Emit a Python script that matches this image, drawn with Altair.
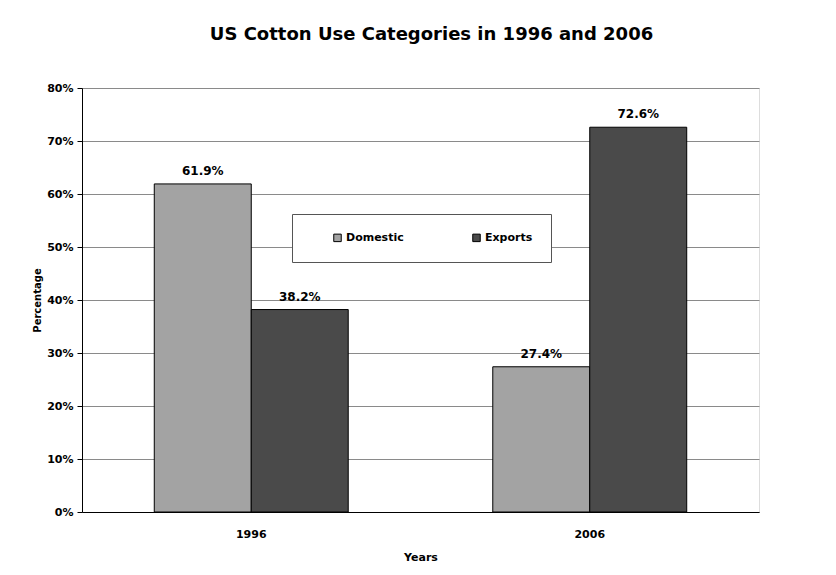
import altair as alt
import pandas as pd

years = ["1996", "2006"]
categories = ["Domestic", "Exports"]
domestic = [61.9, 27.4]
exports = [38.2, 72.6]
y_ticks = [0, 10, 20, 30, 40, 50, 60, 70, 80]

rows = []
for i, yr in enumerate(years):
    rows.append({"year": yr, "category": "Domestic", "value": domestic[i]})
    rows.append({"year": yr, "category": "Exports", "value": exports[i]})
df = pd.DataFrame(rows)

FONT = "DejaVu Sans"

base = alt.Chart(df).transform_calculate(
    label="format(datum.value, '.1f') + '%'"
).encode(
    x=alt.X(
        "year:N",
        title="Years",
        scale=alt.Scale(paddingInner=0.427, paddingOuter=0.2135),
        axis=alt.Axis(
            labelAngle=0, ticks=False, labelPadding=16, titlePadding=12,
            labelFont=FONT, labelFontSize=11, labelFontWeight="bold", labelColor="black",
            titleFont=FONT, titleFontSize=11, titleFontWeight="bold", titleColor="black",
            domainColor="black", domainWidth=1,
        ),
    ),
    xOffset=alt.XOffset("category:N", scale=alt.Scale(domain=categories)),
    y=alt.Y(
        "value:Q",
        title="Percentage",
        scale=alt.Scale(domain=[0, 80], nice=False),
        axis=alt.Axis(
            values=y_ticks, labelExpr="datum.value + '%'",
            tickSize=5, tickColor="black", labelPadding=4, titlePadding=4,
            labelFont=FONT, labelFontSize=11, labelFontWeight="bold", labelColor="black",
            titleFont=FONT, titleFontSize=10, titleFontWeight="bold", titleColor="black",
            domainColor="black", domainWidth=1,
            grid=True, gridColor="#8a8a8a", gridWidth=1,
        ),
    ),
)

bars = base.mark_bar(stroke="black", strokeWidth=1).encode(
    color=alt.Color(
        "category:N",
        scale=alt.Scale(domain=categories, range=["#a3a3a3", "#4a4a4a"]),
        legend=alt.Legend(
            orient="none", legendX=210, legendY=126, direction="horizontal",
            title=None, fillColor="white", strokeColor="#555", padding=18,
            symbolType="square", symbolSize=56, symbolStrokeColor="black",
            symbolStrokeWidth=1, labelFont=FONT, labelFontSize=11,
            labelFontWeight="bold", labelColor="black", columnPadding=45,
            symbolOffset=22, labelOffset=3,
        ),
    )
)

text = base.mark_text(dy=-13, font=FONT, fontSize=12, fontWeight="bold", color="black").encode(
    text="label:N"
)

chart = alt.layer(bars, text).properties(
    width=677,
    height=424,
    title=alt.TitleParams(
        "US Cotton Use Categories in 1996 and 2006",
        font=FONT, fontSize=18, fontWeight="bold", color="black",
        anchor="middle", offset=38, dx=11,
    ),
    autosize=alt.AutoSizeParams(type="none"),
    padding={"left": 74, "top": 80, "right": 69, "bottom": 55},
).configure_view(stroke="#888", strokeWidth=1).configure(background="white")

chart.save("out.html", embed_options={"renderer": "svg", "actions": False})
